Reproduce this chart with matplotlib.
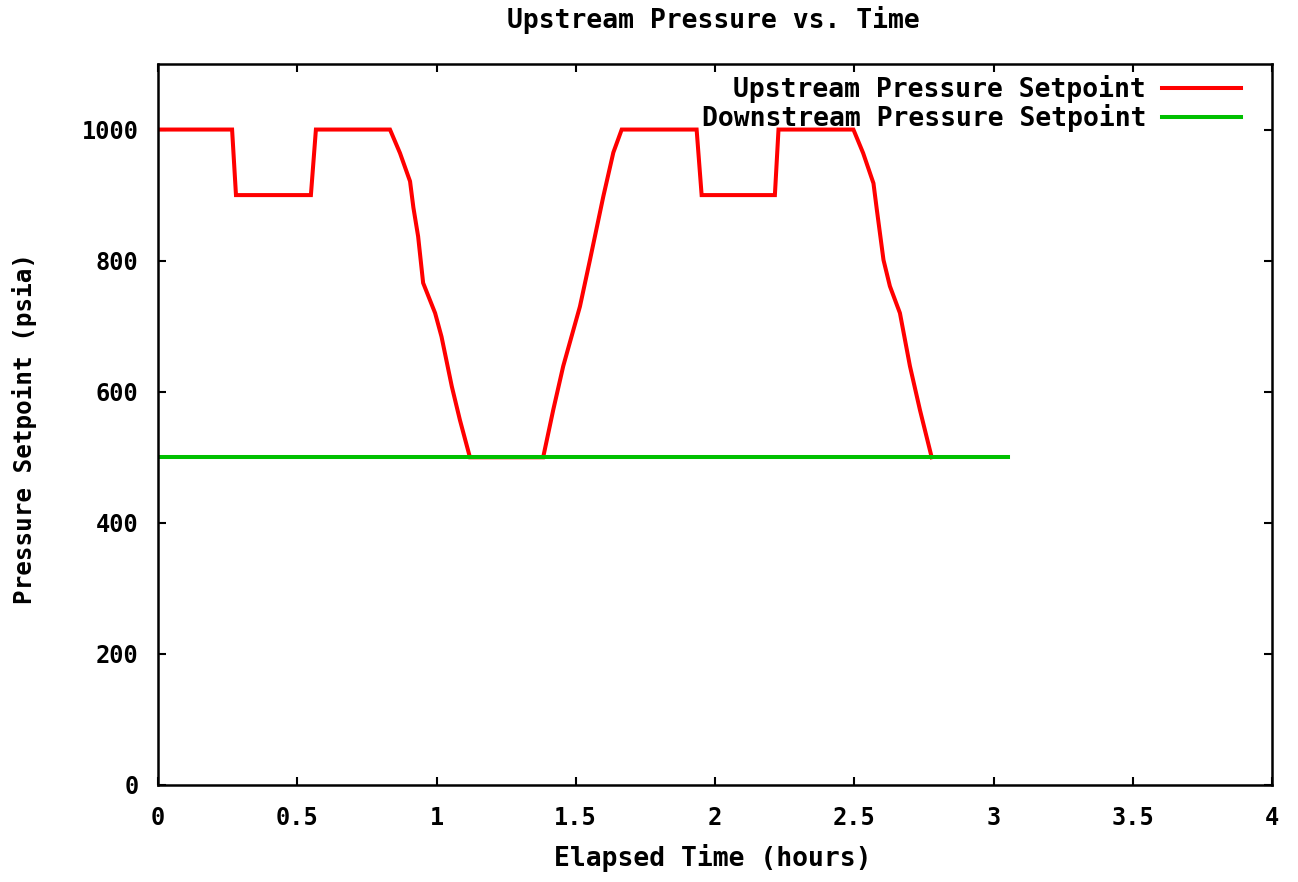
import matplotlib
matplotlib.use("Agg")
import matplotlib.pyplot as plt

# Data
upstream_t = [0.0, 0.266, 0.28, 0.549, 0.567, 0.833, 0.869, 0.905, 0.917, 0.934,
              0.952, 0.995, 1.018, 1.055, 1.084, 1.12, 1.383, 1.419, 1.455, 1.515,
              1.551, 1.599, 1.635, 1.665, 1.934, 1.952, 2.215, 2.228, 2.497, 2.532,
              2.569, 2.581, 2.605, 2.628, 2.664, 2.70, 2.736, 2.778]
upstream_p = [1000, 1000, 900, 900, 1000, 1000, 964, 921, 881, 837,
              766, 720, 684, 608, 557, 500, 500, 572, 639, 730,
              801, 898, 965, 1000, 1000, 900, 900, 1000, 1000, 964,
              918, 878, 801, 761, 720, 639, 572, 500]
downstream_t = [0.0, 3.052]
downstream_p = [500, 500]

x_ticks = [0, 0.5, 1, 1.5, 2, 2.5, 3, 3.5, 4]
x_tick_labels = ["0", "0.5", "1", "1.5", "2", "2.5", "3", "3.5", "4"]
y_ticks = [0, 200, 400, 600, 800, 1000]
y_tick_labels = ["0", "200", "400", "600", "800", "1000"]

title = "Upstream Pressure vs. Time"
xlabel = "Elapsed Time (hours)"
ylabel = "Pressure Setpoint (psia)"
labels = ["Upstream Pressure Setpoint", "Downstream Pressure Setpoint"]

plt.rcParams['font.family'] = ['DejaVu Sans Mono']
plt.rcParams['font.weight'] = 'bold'

fig = plt.figure(figsize=(12.98, 8.82), dpi=100)
ax = fig.add_axes([158/1298, 1 - 785/882, (1272 - 158)/1298, (785 - 64)/882])

ax.plot(upstream_t, upstream_p, color="#ff0000", lw=2.9, label=labels[0], solid_joinstyle='miter')
ax.plot(downstream_t, downstream_p, color="#00c000", lw=2.9, label=labels[1])

ax.set_xlim(0, 4)
ax.set_ylim(0, 1100)
ax.set_xticks(x_ticks)
ax.set_xticklabels(x_tick_labels)
ax.set_yticks(y_ticks)
ax.set_yticklabels(y_tick_labels)
ax.tick_params(direction='in', length=6, width=1.5, top=True, right=True,
               labelsize=17, pad=14)
ax.tick_params(axis='x', pad=15)
for s in ax.spines.values():
    s.set_linewidth(1.8)

fig.text(713/1298, 1 - 20/882, title, ha='center', va='center', fontsize=19, fontweight='bold')
fig.text(713/1298, 1 - 858/882, xlabel, ha='center', va='center', fontsize=19, fontweight='bold')
fig.text(25/1298, 1 - 428/882, ylabel, ha='center', va='center', rotation=90, fontsize=17.5, fontweight='bold')

leg = ax.legend(loc='upper right', bbox_to_anchor=(1241/1298, 1 - 75/882),
                bbox_transform=fig.transFigure, frameon=False, markerfirst=False,
                fontsize=19, handlelength=3.0, handletextpad=0.6, labelspacing=0.05,
                borderpad=0, borderaxespad=0)
for t in leg.get_texts():
    t.set_ha('right')
leg._legend_box.align = 'right'

fig.savefig("out.png", dpi=100)
